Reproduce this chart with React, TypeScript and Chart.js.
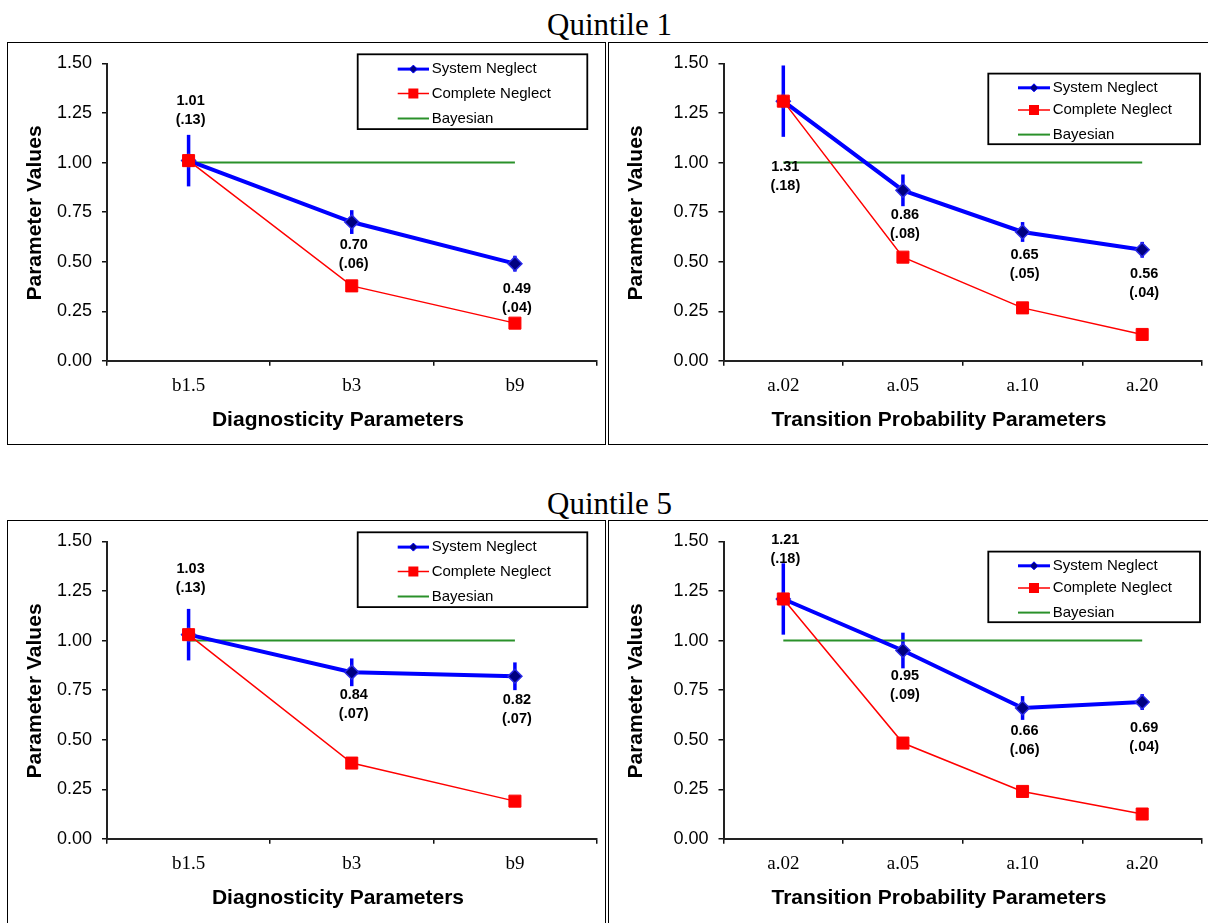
import React, { useEffect, useRef } from 'react';
import { Chart, registerables } from 'chart.js';

Chart.register(...registerables);

// ---------------- data ----------------
const diagnosticityCategories = ['b1.5', 'b3', 'b9'];
const transitionCategories = ['a.02', 'a.05', 'a.10', 'a.20'];

const q1DiagSystemNeglect = [1.01, 0.7, 0.49];
const q1DiagSystemNeglectSE = [0.13, 0.06, 0.04];
const q1DiagCompleteNeglect = [1.01, 0.378, 0.19];

const q1TransSystemNeglect = [1.31, 0.86, 0.65, 0.56];
const q1TransSystemNeglectSE = [0.18, 0.08, 0.05, 0.04];
const q1TransCompleteNeglect = [1.31, 0.523, 0.267, 0.133];

const q5DiagSystemNeglect = [1.03, 0.84, 0.82];
const q5DiagSystemNeglectSE = [0.13, 0.07, 0.07];
const q5DiagCompleteNeglect = [1.03, 0.382, 0.19];

const q5TransSystemNeglect = [1.21, 0.95, 0.66, 0.69];
const q5TransSystemNeglectSE = [0.18, 0.09, 0.06, 0.04];
const q5TransCompleteNeglect = [1.21, 0.483, 0.239, 0.125];

const bayesianBenchmark = 1.0;
const yTickLabels = ['0.00', '0.25', '0.50', '0.75', '1.00', '1.25', '1.50'];
const seriesNames = ['System Neglect', 'Complete Neglect', 'Bayesian'];
const quintileTitles = ['Quintile 1', 'Quintile 5'];
const xAxisTitles = ['Diagnosticity Parameters', 'Transition Probability Parameters'];
const yAxisTitle = 'Parameter Values';

// ---------------- style ----------------
const SANS = "'Liberation Sans', Arial, sans-serif";
const SERIF = "'Liberation Serif', 'Times New Roman', serif";
const SN_COLOR = '#0000ff';
const SN_FILL = '#000080';
const CN_COLOR = '#ff0000';
const BAY_COLOR = '#2a912a';

// label vertical offsets (px from point) - styling only
const q1DiagLabelDy = [-60, 23, 25];
const q1TransLabelDy = [66, 24.5, 23.5, 24.5];
const q5DiagLabelDy = [-66, 22.5, 23.5];
const q5TransLabelDy = [-59, 25, 23.5, 26];

type Area = { left: number; right: number; top: number; bottom: number };
type LegendBox = {
  x: number; y: number; w: number; h: number;
  rows: number[]; lineX0: number; lineX1: number; textX: number;
};
type PanelSpec = {
  left: number; top: number; width: number; height: number;
  categories: string[];
  system: number[]; systemSE: number[]; complete: number[];
  labelDy: number[];
  area: Area;
  legend: LegendBox;
  xTitle: string;
};

const leftArea: Area = { left: 100, right: 592.5, top: 21.5, bottom: 318.8 };
const rightArea: Area = { left: 115.5, right: 594, top: 21.5, bottom: 318.8 };
const leftLegend: LegendBox = { x: 350.7, y: 12.3, w: 229.6, h: 74.8, rows: [27.1, 51.5, 76.5], lineX0: 390.7, lineX1: 422, textX: 424.7 };
const rightLegend: LegendBox = { x: 380.3, y: 31.6, w: 211.7, h: 70.6, rows: [45.8, 68, 92.6], lineX0: 410, lineX1: 442, textX: 444.7 };

function fmtSE(se: number) {
  return '(' + se.toFixed(2).replace(/^0/, '') + ')';
}

function drawDiamond(ctx: CanvasRenderingContext2D, x: number, y: number, r: number) {
  ctx.beginPath();
  ctx.moveTo(x, y - r);
  ctx.lineTo(x + r, y);
  ctx.lineTo(x, y + r);
  ctx.lineTo(x - r, y);
  ctx.closePath();
}

function makeExtras(spec: PanelSpec) {
  return {
    id: 'panelExtras',
    beforeDatasetsDraw(chart: any) {
      const ctx: CanvasRenderingContext2D = chart.ctx;
      const yScale = chart.scales.y;
      const meta = chart.getDatasetMeta(0);
      ctx.save();
      ctx.strokeStyle = SN_COLOR;
      ctx.lineWidth = 3.5;
      spec.system.forEach((v, i) => {
        const pt = meta.data[i];
        if (!pt) return;
        ctx.beginPath();
        ctx.moveTo(pt.x, yScale.getPixelForValue(v + spec.systemSE[i]));
        ctx.lineTo(pt.x, yScale.getPixelForValue(v - spec.systemSE[i]));
        ctx.stroke();
      });
      ctx.restore();
    },
    afterDraw(chart: any) {
      const ctx: CanvasRenderingContext2D = chart.ctx;
      const meta = chart.getDatasetMeta(0);
      ctx.save();
      // data labels
      ctx.fillStyle = '#000';
      ctx.textAlign = 'center';
      ctx.textBaseline = 'middle';
      ctx.font = `bold 14.5px ${SANS}`;
      spec.system.forEach((v, i) => {
        const pt = meta.data[i];
        if (!pt) return;
        const x = pt.x + 2;
        const y = pt.y + spec.labelDy[i];
        ctx.fillText(v.toFixed(2), x, y);
        ctx.fillText(fmtSE(spec.systemSE[i]), x, y + 19);
      });

      // legend
      const lg = spec.legend;
      ctx.fillStyle = '#fff';
      ctx.fillRect(lg.x, lg.y, lg.w, lg.h);
      ctx.strokeStyle = '#000';
      ctx.lineWidth = 1.8;
      ctx.strokeRect(lg.x, lg.y, lg.w, lg.h);
      const ds = chart.data.datasets;
      const cx = (lg.lineX0 + lg.lineX1) / 2;
      [0, 1, 2].forEach((k) => {
        const d = ds[k];
        const ry = lg.rows[k];
        ctx.strokeStyle = d.borderColor;
        ctx.lineWidth = k === 0 ? 3 : k === 1 ? 1.5 : 2;
        ctx.beginPath();
        ctx.moveTo(lg.lineX0, ry);
        ctx.lineTo(lg.lineX1, ry);
        ctx.stroke();
        if (k === 0) {
          ctx.fillStyle = SN_FILL;
          ctx.strokeStyle = SN_COLOR;
          ctx.lineWidth = 1;
          drawDiamond(ctx, cx, ry, 4);
          ctx.fill();
          ctx.stroke();
        } else if (k === 1) {
          ctx.fillStyle = CN_COLOR;
          ctx.fillRect(cx - 5, ry - 5, 10, 10);
        }
        ctx.fillStyle = '#000';
        ctx.textAlign = 'left';
        ctx.textBaseline = 'middle';
        ctx.font = `15px ${SANS}`;
        ctx.fillText(d.label, lg.textX, ry);
      });

      // axis titles
      ctx.fillStyle = '#000';
      ctx.font = `bold 21px ${SANS}`;
      ctx.textAlign = 'center';
      ctx.textBaseline = 'middle';
      ctx.fillText(spec.xTitle, 331, 378);
      ctx.translate(28, 171);
      ctx.rotate(-Math.PI / 2);
      ctx.fillText(yAxisTitle, 0, 0);
      ctx.restore();
    },
  };
}

function Panel({ spec }: { spec: PanelSpec }) {
  const ref = useRef<HTMLCanvasElement | null>(null);
  useEffect(() => {
    if (!ref.current) return;
    const a = spec.area;
    const gridCommon = {
      offset: true,
      drawOnChartArea: false,
      drawTicks: true,
      tickLength: 5,
      color: '#111',
      lineWidth: 1.5,
    };
    const chart = new Chart(ref.current, {
      type: 'line',
      data: {
        labels: spec.categories,
        datasets: [
          {
            label: seriesNames[0],
            data: spec.system,
            borderColor: SN_COLOR,
            borderWidth: 4,
            pointStyle: 'rectRot',
            pointRadius: 7,
            pointBackgroundColor: SN_FILL,
            pointBorderColor: '#2a2ae8',
            pointBorderWidth: 1.5,
            order: 1,
          },
          {
            label: seriesNames[1],
            data: spec.complete,
            borderColor: CN_COLOR,
            borderWidth: 1.5,
            pointStyle: 'rect',
            pointRadius: 8.5,
            pointBackgroundColor: CN_COLOR,
            pointBorderColor: CN_COLOR,
            pointBorderWidth: 1,
            order: 0,
          },
          {
            label: seriesNames[2],
            data: spec.categories.map(() => bayesianBenchmark),
            borderColor: BAY_COLOR,
            borderWidth: 2,
            pointRadius: 0,
            order: 2,
          },
        ],
      },
      options: {
        responsive: false,
        maintainAspectRatio: false,
        animation: false,
        events: [],
        layout: { padding: { top: a.top, right: spec.width - a.right, left: 0, bottom: 0 } },
        elements: { line: { tension: 0 } },
        plugins: {
          legend: { display: false },
          tooltip: { enabled: false },
          title: { display: false },
        },
        scales: {
          x: {
            type: 'category',
            offset: true,
            grid: { ...gridCommon },
            border: { display: true, color: '#222', width: 2 },
            ticks: {
              color: '#000',
              font: { family: SERIF, size: 19 },
              padding: 9,
              maxRotation: 0,
              autoSkip: false,
            },
            afterFit: (s: any) => {
              s.height = spec.height - a.bottom;
            },
          },
          y: {
            min: 0,
            max: 1.5,
            grid: { ...gridCommon, offset: false },
            border: { display: true, color: '#222', width: 2 },
            ticks: {
              stepSize: 0.25,
              color: '#000',
              font: { family: SANS, size: 18 },
              padding: 10,
              callback: (_v: any, i: number) => yTickLabels[i],
            },
            afterFit: (s: any) => {
              s.width = a.left;
            },
          },
        },
      },
      plugins: [makeExtras(spec)],
    } as any);
    return () => chart.destroy();
  }, [spec]);

  return (
    <>
      <canvas
        ref={ref}
        width={spec.width}
        height={spec.height}
        style={{ position: 'absolute', left: spec.left, top: spec.top, width: spec.width, height: spec.height }}
      />
      <div
        style={{
          position: 'absolute',
          left: spec.left,
          top: spec.top,
          width: spec.width,
          height: spec.height,
          border: '1.6px solid #000',
          boxSizing: 'border-box',
          pointerEvents: 'none',
        }}
      />
    </>
  );
}

const panels: PanelSpec[] = [
  {
    left: 7, top: 42, width: 599, height: 403,
    categories: diagnosticityCategories,
    system: q1DiagSystemNeglect, systemSE: q1DiagSystemNeglectSE, complete: q1DiagCompleteNeglect,
    labelDy: q1DiagLabelDy, area: leftArea, legend: leftLegend, xTitle: xAxisTitles[0],
  },
  {
    left: 608, top: 42, width: 612, height: 403,
    categories: transitionCategories,
    system: q1TransSystemNeglect, systemSE: q1TransSystemNeglectSE, complete: q1TransCompleteNeglect,
    labelDy: q1TransLabelDy, area: rightArea, legend: rightLegend, xTitle: xAxisTitles[1],
  },
  {
    left: 7, top: 520, width: 599, height: 412,
    categories: diagnosticityCategories,
    system: q5DiagSystemNeglect, systemSE: q5DiagSystemNeglectSE, complete: q5DiagCompleteNeglect,
    labelDy: q5DiagLabelDy, area: leftArea, legend: leftLegend, xTitle: xAxisTitles[0],
  },
  {
    left: 608, top: 520, width: 612, height: 412,
    categories: transitionCategories,
    system: q5TransSystemNeglect, systemSE: q5TransSystemNeglectSE, complete: q5TransCompleteNeglect,
    labelDy: q5TransLabelDy, area: rightArea, legend: rightLegend, xTitle: xAxisTitles[1],
  },
];

const titleTops = [9, 487.5];

export default function App() {
  return (
    <div
      style={{
        position: 'absolute',
        left: 0,
        top: 0,
        width: 1208,
        height: 923,
        overflow: 'hidden',
        background: '#fff',
      }}
    >
      {quintileTitles.map((t, i) => (
        <div
          key={t}
          style={{
            position: 'absolute',
            left: 0,
            width: 1219,
            top: titleTops[i],
            textAlign: 'center',
            fontFamily: SERIF,
            fontSize: 31,
            lineHeight: '31px',
            color: '#000',
            whiteSpace: 'nowrap',
          }}
        >
          {t}
        </div>
      ))}
      {panels.map((p, i) => (
        <Panel key={i} spec={p} />
      ))}
    </div>
  );
}
